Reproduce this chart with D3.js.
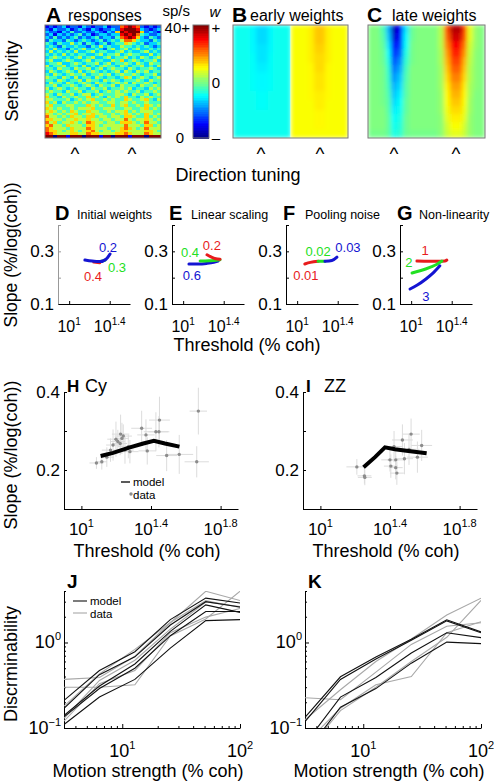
<!DOCTYPE html>
<html><head><meta charset="utf-8">
<script src="https://cdn.jsdelivr.net/npm/d3@7"></script>
<style>
body{margin:0;background:#fff;}
svg text{font-family:"Liberation Sans",Arial,Helvetica,sans-serif;fill:#000;}
</style></head><body>
<svg id="fig" width="494" height="782" xmlns="http://www.w3.org/2000/svg"></svg>
<script>
// ================= DATA =================
// Panel A: responses (digits 0..9 -> 0..40+ sp/s), rows = sensitivity (top high), cols = direction
const respRows = [
"1212312213212231227898721212",
"2132231232132122328999832123",
"3221324223223213269899962321",
"2313232342312332338989743223",
"3242323423234233247898632432",
"2433243234323423435776433243",
"4324335342432342344654342334",
"3432433433243534335443434323",
"4353324345334324534534533434",
"3534343533453443345343345343",
"4343534344334534453454433534",
"3454343453453345344534354345",
"4533454334534433546345434453",
"3445334543445345344543543544",
"5344534435343454435434453435",
"4435443544534534544354344543",
"3543454353454343453543545344",
"4354345445344545345445434453",
"5443543534435434434653454345",
"4435434453544354543444543544",
"3544354345435443454535445434",
"4453445434543544535444354454",
"5345434544354453445453443545",
"4544354453445345454544534454",
"5435445345534544455435445345",
"6443544544645435454644354544",
"5544453454564454544654456435",
"6453544545455445545545445444",
"5644455444654544645644546545",
"6545445455564455544554456454",
"5654546544655445455645455544",
"6545455645565544545654546545",
"7554546554664554554665446454",
"6655455655655455455754556545",
"7564556545765545546665457554",
"6755465554665455555755546645",
"7655546555765554556765457555",
"7665456545675455456655556654",
"8765556655766555566765557655",
"9909919990999199099919990999"
];
// Panel B: early weights (jet value x100)
const earlyW = [
[39,39,39,37,34,34,37,39,39,39,62,62,62,64,68,68,64,62,62,62],
[39,39,39,37,34,34,37,39,39,39,62,62,62,64,68,68,64,62,62,62],
[39,39,39,37,35,35,37,39,39,39,62,62,62,64,67,67,64,62,62,62],
[39,39,39,38,35,35,38,39,39,39,62,62,62,64,66,66,64,62,62,62],
[39,39,39,38,36,36,38,39,39,39,62,62,62,63,66,66,63,62,62,62],
[39,39,39,38,37,37,38,39,39,39,62,62,62,63,65,65,63,62,62,62],
[39,39,39,38,37,37,38,39,39,39,62,62,62,63,65,65,63,62,62,62],
[39,39,39,39,38,38,39,39,39,39,62,62,62,63,64,64,63,62,62,62],
[39,39,39,39,38,38,39,39,39,39,62,62,62,62,64,64,62,62,62,62],
[39,39,39,39,39,39,39,39,39,39,62,62,62,62,63,63,62,62,62,62],
[39,39,39,39,39,39,39,39,39,39,62,62,62,62,63,63,62,62,62,62],
[39,39,39,39,39,39,39,39,39,39,62,62,62,62,62,62,62,62,62,62]
];
// Panel C: late weights (jet value x100)
const lateW = [
[50,50,45,30,5,12,35,48,50,50,50,50,55,80,95,95,82,60,52,50],
[50,50,46,32,8,15,37,48,50,50,50,50,55,78,92,92,80,60,52,50],
[50,50,47,35,12,18,38,49,50,50,50,50,55,75,88,88,76,58,52,50],
[50,50,48,38,16,22,40,49,50,50,50,50,54,72,84,84,73,57,51,50],
[50,50,48,40,20,26,42,49,50,50,50,50,54,70,81,81,70,56,51,50],
[50,50,49,42,24,29,44,50,50,50,50,50,53,68,78,78,68,55,51,50],
[50,50,49,43,27,32,45,50,50,50,50,50,53,66,75,75,66,55,51,50],
[50,50,49,44,30,34,46,50,50,50,50,50,53,64,72,72,64,54,51,50],
[50,50,49,45,32,36,46,50,50,50,50,50,52,63,70,70,63,54,50,50],
[50,50,49,46,34,38,47,50,50,50,50,50,52,62,68,68,62,53,50,50],
[50,50,50,46,36,39,47,50,50,50,50,50,52,61,66,66,61,53,50,50],
[50,50,50,47,38,40,48,50,50,50,50,50,51,60,64,64,60,52,50,50],
[50,50,50,47,39,41,48,50,50,50,50,50,51,58,62,62,58,52,50,50],
[49,49,49,47,40,42,48,49,49,49,49,49,51,57,60,60,57,52,50,50]
];
const colorbarLeft = ["sp/s","40+","0"];
const colorbarRight = ["w","+","0","\u2013"];

// Panels D-G: [threshold % coh, slope]
const dBlue  = [[14.3,0.267],[16.8,0.263],[20.1,0.261],[23.1,0.270],[25.3,0.290]];
const dRed   = [[17.5,0.259],[20.1,0.257]];
const dGreen = [[20.5,0.262],[22.5,0.266]];
const eBlue  = [[11.4,0.252],[14,0.252],[17,0.254],[20,0.258],[22.1,0.263]];
const eGreen = [[14.7,0.263],[18,0.264],[23.1,0.268]];
const eRed   = [[17.2,0.287],[19,0.278],[21,0.272],[23.1,0.270]];
const fRed   = [[11.9,0.252],[13.5,0.258],[16.1,0.262]];
const fGreen = [[16.1,0.262],[18.8,0.262]];
const fBlue  = [[18.8,0.262],[22,0.265],[24.7,0.278]];
const gRed   = [[11.4,0.263],[15,0.262],[19,0.262],[21.5,0.263],[22.5,0.267]];
const gGreen = [[10.2,0.218],[12.5,0.227],[15.5,0.240],[18,0.251],[20.1,0.263]];
const gBlue  = [[9.75,0.157],[11.5,0.172],[14,0.195],[16.5,0.218],[19.2,0.245]];
// parameter labels: [text, threshold, slope, colour key]
const dLabels = [["0.2",24.2,0.316,"b"],["0.3",29.6,0.240,"g"],["0.4",17.2,0.203,"r"]];
const eLabels = [["0.4",11.7,0.294,"g"],["0.2",19.2,0.324,"r"],["0.6",12.2,0.210,"b"]];
const fLabels = [["0.01",12.2,0.210,"r"],["0.02",16.1,0.301,"g"],["0.03",31.7,0.316,"b"]];
const gLabels = [["1",13.7,0.305,"r"],["2",9.5,0.256,"g"],["3",14.0,0.130,"b"]];

// Panel H (monkey Cy)
const hThr   = [12.2,13.1,14.0,14.7,15.2,15.8,16.2,16.8,17.1,17.4,16.7,17.8,18.6,19.0,22.2,23.5,26.8,27.9,28.1,23.9,30.9,36.5,46.0,47.0];
const hSlope = [0.218,0.221,0.233,0.251,0.264,0.279,0.273,0.292,0.281,0.287,0.268,0.251,0.260,0.247,0.307,0.290,0.298,0.298,0.328,0.249,0.237,0.240,0.221,0.351];
const hThrErr   = [0.04,0.03,0.04,0.05,0.04,0.05,0.04,0.05,0.04,0.05,0.04,0.05,0.06,0.05,0.06,0.05,0.07,0.06,0.06,0.05,0.06,0.08,0.07,0.05];
const hSlopeErr = [0.015,0.02,0.025,0.03,0.04,0.045,0.03,0.05,0.04,0.03,0.03,0.035,0.03,0.03,0.045,0.04,0.05,0.04,0.06,0.035,0.04,0.05,0.04,0.06];
const hModel = [[12.9,0.236],[15.2,0.244],[19.0,0.258],[22.7,0.268],[26.1,0.275],[30.2,0.268],[36.6,0.260]];
// Panel I (monkey ZZ)
const iThr   = [16.2,17.9,18.0,25.1,25.4,27.1,27.1,27.5,26.5,29.6,30.4,32.3,33.2,36.1,38.2];
const iSlope = [0.208,0.185,0.181,0.226,0.210,0.226,0.206,0.192,0.260,0.277,0.229,0.253,0.292,0.233,0.263];
const iThrErr   = [0.06,0.04,0.04,0.05,0.04,0.05,0.04,0.04,0.05,0.06,0.05,0.06,0.05,0.06,0.06];
const iSlopeErr = [0.02,0.02,0.02,0.03,0.03,0.03,0.03,0.03,0.04,0.04,0.04,0.04,0.04,0.04,0.04];
const iModel = [[17.7,0.207],[20.6,0.233],[23.5,0.258],[26.8,0.253],[32.0,0.249],[40.8,0.243]];

// Panels J, K: discriminability vs coherence
const coh = [3.2,6.4,12.8,25.6,51.2,100];
const jModel = [
[0.21,0.47,0.78,1.85,3.3,2.9],
[0.17,0.42,0.68,1.6,3.0,2.6],
[0.14,0.31,0.56,1.35,2.75,2.25],
[0.135,0.29,0.50,1.2,2.3,2.3],
[0.11,0.23,0.37,0.86,1.8,1.85]];
const jData = [
[0.37,0.39,0.69,1.7,3.97,3.1],
[0.30,0.30,0.32,1.19,1.88,3.97],
[0.18,0.43,0.83,1.71,3.1,2.56],
[0.13,0.36,0.62,1.43,2.97,2.64],
[0.12,0.33,0.47,1.3,1.98,2.5]];
const kModel = [
[0.133,0.397,0.675,1.09,1.84,1.33],
[0.119,0.369,0.64,1.06,1.79,1.30],
[0.065,0.23,0.39,0.754,1.30,1.14],
[0.05,0.175,0.289,0.573,1.01,0.97]];
const kData = [
[0.226,0.214,0.45,0.95,1.55,1.7],
[0.125,0.28,0.6,1.1,2.1,3.3],
[0.065,0.17,0.32,0.40,1.3,1.75],
[0.05,0.16,0.30,0.6,1.15,3.1]];

// ================= DRAWING =================
const svg = d3.select("#fig");
const defs = svg.append("defs");
const jet = d3.scaleLinear()
  .domain([0,0.125,0.375,0.625,0.875,1])
  .range(["#000080","#0000ff","#00ffff","#ffff00","#ff0000","#800000"])
  .clamp(true);

function T(g,x,y,s,o){
  o=o||{};
  const t=g.append("text").attr("x",x).attr("y",y).attr("font-size",o.fs||16)
    .attr("text-anchor",o.anchor||"start").text(s);
  if(o.bold) t.attr("font-weight","bold");
  if(o.italic) t.attr("font-style","italic");
  if(o.fill) t.style("fill",o.fill);
  if(o.rot) t.attr("transform",`rotate(-90,${x},${y})`);
  return t;
}
function logLabel(g,x,y,exp,anchor,fs,sfs){
  const t=g.append("text").attr("x",x).attr("y",y).attr("text-anchor",anchor||"middle").attr("font-size",fs);
  t.append("tspan").text("10");
  t.append("tspan").attr("dy",-fs*0.45).attr("font-size",sfs).text(exp);
  return t;
}

// blur filter for smooth weight maps
const flt = defs.append("filter").attr("id","smooth").attr("x",0).attr("y",0).attr("width",1).attr("height",1);
flt.append("feGaussianBlur").attr("stdDeviation",2.2).attr("edgeMode","duplicate");

function heat(x0,y0,w,h,rows,val,blur,id,split){
  const nr=rows.length,nc=rows[0].length;
  const xb=d3.scaleBand().domain(d3.range(nc)).range([x0,x0+w]);
  const yb=d3.scaleBand().domain(d3.range(nr)).range([y0,y0+h]);
  const parts=split?[[0,nc/2],[nc/2,nc]]:[[0,nc]];
  parts.forEach(([c0,c1],k)=>{
    const cx0=xb(c0), cx1=c1<nc?xb(c1):x0+w;
    defs.append("clipPath").attr("id",id+k).append("rect").attr("x",cx0).attr("y",y0).attr("width",cx1-cx0).attr("height",h);
    const outer=svg.append("g").attr("clip-path",`url(#${id+k})`);
    const g=outer.append("g").attr("shape-rendering","crispEdges");
    if(blur) g.attr("filter","url(#smooth)");
    rows.forEach((row,r)=>{
      for(let c=c0;c<c1;c++){
        const wd=(c===c1-1)?xb.bandwidth():xb.bandwidth()+0.6;
        g.append("rect").attr("x",xb(c)).attr("y",yb(r))
          .attr("width",wd).attr("height",yb.bandwidth()+(r===nr-1?0:0.6))
          .attr("fill",jet(val(row[c])));
      }
    });
  });
  svg.append("rect").attr("x",x0).attr("y",y0).attr("width",w).attr("height",h)
    .attr("fill","none").attr("stroke","#777").attr("stroke-width",1);
}

// ---- A, B, C
heat(45,25,116,113,respRows,ch=>(+ch)/9,false,"clipA",false);
heat(233,25,115,113,earlyW,v=>v/100,true,"clipB",true);
heat(368,25,117,113,lateW,v=>v/100,true,"clipC",false);

// colorbar
const cbY=d3.scaleLinear().domain([0,1]).range([138,25]);
const cbSteps=d3.range(0,1,1/64);
svg.append("g").attr("shape-rendering","crispEdges").selectAll("rect").data(cbSteps).join("rect")
  .attr("x",193).attr("width",16)
  .attr("y",d=>cbY(d+1/64)).attr("height",d=>cbY(d)-cbY(d+1/64)+0.5)
  .attr("fill",d=>jet(d+0.5/64));
svg.append("rect").attr("x",193).attr("y",25).attr("width",16).attr("height",113).attr("fill","none").attr("stroke","#777");
T(svg,190,16,colorbarLeft[0],{fs:15,anchor:"end"});
T(svg,190,33,colorbarLeft[1],{fs:15,anchor:"end"});
T(svg,184,143,colorbarLeft[2],{fs:15,anchor:"end"});
T(svg,215,17,colorbarRight[0],{fs:15,italic:true,anchor:"middle"});
T(svg,216,33,colorbarRight[1],{fs:15,anchor:"middle"});
T(svg,216,88,colorbarRight[2],{fs:15,anchor:"middle"});
T(svg,216,143,colorbarRight[3],{fs:15,anchor:"middle"});

// titles
T(svg,46,22,"A",{fs:21,bold:true}); T(svg,68,21,"responses",{fs:16});
T(svg,232,22,"B",{fs:21,bold:true}); T(svg,250,21,"early weights",{fs:16});
T(svg,367,22,"C",{fs:21,bold:true}); T(svg,392,21,"late weights",{fs:16});
// carets marking preferred directions
[75,132,261,320,394,456].forEach(x=>T(svg,x,160,"^",{fs:19,anchor:"middle"}));
T(svg,18,81,"Sensitivity",{fs:18,anchor:"middle",rot:true});
T(svg,238,181,"Direction tuning",{fs:18,anchor:"middle"});

// ---- D-G
const col={r:"#e81c1c",g:"#22e022",b:"#1414d2"};
const dg=[
  {x0:58,L:"D",title:"Initial weights",lines:[[dRed,"r"],[dGreen,"g"],[dBlue,"b"]],labels:dLabels,ycol:"#999"},
  {x0:172,L:"E",title:"Linear scaling",lines:[[eBlue,"b"],[eGreen,"g"],[eRed,"r"]],labels:eLabels,ycol:"#000"},
  {x0:286,L:"F",title:"Pooling noise",lines:[[fRed,"r"],[fGreen,"g"],[fBlue,"b"]],labels:fLabels,ycol:"#000"},
  {x0:400,L:"G",title:"Non-linearity",lines:[[gRed,"r"],[gGreen,"g"],[gBlue,"b"]],labels:gLabels,ycol:"#000"}
];
const dgTop=225,dgBot=304,dgW=72;
dg.forEach(p=>{
  const x=d3.scaleLog().domain([Math.pow(10,0.89),Math.pow(10,1.6)]).range([p.x0,p.x0+dgW]);
  const y=d3.scaleLinear().domain([0.1,0.4]).range([dgBot,dgTop]);
  const g=svg.append("g");
  const ya=g.append("g").attr("transform",`translate(${p.x0},0)`)
    .call(d3.axisLeft(y).tickValues([0.1,0.2,0.3,0.4]).tickSize(-3).tickSizeOuter(0).tickFormat(""));
  ya.selectAll("path,line").attr("stroke",p.ycol);
  g.append("g").attr("transform",`translate(0,${dgBot})`)
    .call(d3.axisBottom(x).tickValues([10,Math.pow(10,1.4)]).tickSize(-3).tickSizeOuter(0).tickFormat(""));
  T(g,p.x0-4,y(0.3)+6,"0.3",{fs:17,anchor:"end"});
  T(g,p.x0-4,y(0.1)+6,"0.1",{fs:17,anchor:"end"});
  logLabel(g,x(10),332,"1","middle",16,10);
  logLabel(g,x(Math.pow(10,1.4)),332,"1.4","middle",16,10);
  T(g,p.x0-3,220,p.L,{fs:20,bold:true});
  T(g,p.x0+19,219,p.title,{fs:12.5});
  const line=d3.line().x(d=>x(d[0])).y(d=>y(d[1])).curve(d3.curveMonotoneX);
  p.lines.forEach(([data,c])=>{
    g.append("path").attr("d",line(data)).attr("fill","none").attr("stroke",col[c])
      .attr("stroke-width",3).attr("stroke-linecap","round");
  });
  p.labels.forEach(([s,tx,ty,c])=>T(g,x(tx),y(ty)+4.5,s,{fs:13,anchor:"middle",fill:col[c]}));
});
T(svg,17,255,"Slope (%/log(coh))",{fs:17.5,anchor:"middle",rot:true});
T(svg,247,351,"Threshold (% coh)",{fs:18,anchor:"middle"});

// ---- H, I
function scatterPanel(x0,L,name,thr,slope,thrErr,slopeErr,model,legend){
  const x=d3.scaleLog().domain([Math.pow(10,0.9),Math.pow(10,1.9)]).range([x0,x0+174]);
  const y=d3.scaleLinear().domain([0.1,0.4]).range([509,392]);
  const g=svg.append("g");
  g.append("g").attr("transform",`translate(${x0},0)`)
    .call(d3.axisLeft(y).tickValues([0.1,0.2,0.3,0.4]).tickSize(-3).tickSizeOuter(0).tickFormat(""));
  g.append("g").attr("transform","translate(0,509)")
    .call(d3.axisBottom(x).tickValues([10,Math.pow(10,1.4),Math.pow(10,1.8)]).tickSize(-3).tickSizeOuter(0).tickFormat(""));
  T(g,x0-4,y(0.4)+6,"0.4",{fs:17,anchor:"end"});
  T(g,x0-4,y(0.2)+6,"0.2",{fs:17,anchor:"end"});
  [["1",1],["1.4",1.4],["1.8",1.8]].forEach(([e,v])=>logLabel(g,x(Math.pow(10,v)),535,e,"middle",17,11));
  T(g,x0+3,392,L,{fs:17,bold:true});
  T(g,x0+21,392,name,{fs:18});
  const eb=g.append("g").attr("stroke","#dcdcdc").attr("stroke-width",1);
  thr.forEach((t,i)=>{
    const lt=Math.log10(t);
    eb.append("line").attr("x1",x(Math.pow(10,lt-thrErr[i]))).attr("x2",x(Math.pow(10,lt+thrErr[i])))
      .attr("y1",y(slope[i])).attr("y2",y(slope[i]));
    eb.append("line").attr("x1",x(t)).attr("x2",x(t))
      .attr("y1",y(slope[i]-slopeErr[i])).attr("y2",y(slope[i]+slopeErr[i]));
  });
  g.append("g").selectAll("circle").data(thr).join("circle")
    .attr("cx",d=>x(d)).attr("cy",(d,i)=>y(slope[i])).attr("r",1.7).attr("fill","#8c8c8c");
  g.append("path").attr("d",d3.line().x(d=>x(d[0])).y(d=>y(d[1]))(model))
    .attr("fill","none").attr("stroke","#000").attr("stroke-width",4).attr("stroke-linejoin","miter");
  if(legend){
    g.append("line").attr("x1",x0+57).attr("x2",x0+66).attr("y1",482).attr("y2",482).attr("stroke","#000").attr("stroke-width",1.3);
    T(g,x0+69,486,"model",{fs:11.5});
    g.append("circle").attr("cx",x0+67).attr("cy",494).attr("r",1.7).attr("fill","#8c8c8c");
    T(g,x0+69,498.5,"data",{fs:11.5});
  }
  T(g,x0+83,557,"Threshold (% coh)",{fs:18,anchor:"middle"});
}
scatterPanel(64,"H","Cy",hThr,hSlope,hThrErr,hSlopeErr,hModel,true);
scatterPanel(303,"I","ZZ",iThr,iSlope,iThrErr,iSlopeErr,iModel,false);
T(svg,17,455,"Slope (%/log(coh))",{fs:18,anchor:"middle",rot:true});

// ---- J, K
function discPanel(x0,L,model,data,id,legend){
  const x=d3.scaleLog().domain([3.2,100]).range([x0,x0+176]);
  const y=d3.scaleLog().domain([0.1,4]).range([728,591]);
  const g=svg.append("g");
  const minorY=[0.2,0.3,0.4,0.5,0.6,0.7,0.8,0.9,2,3,4];
  const minorX=[4,5,6,7,8,9,20,30,40,50,60,70,80,90];
  g.append("g").attr("transform",`translate(${x0},0)`)
    .call(d3.axisLeft(y).tickValues([0.1,1]).tickSize(-4).tickSizeOuter(0).tickFormat(""));
  g.append("g").attr("transform",`translate(${x0},0)`)
    .call(d3.axisLeft(y).tickValues(minorY).tickSize(-2).tickSizeOuter(0).tickFormat(""))
    .select(".domain").remove();
  g.append("g").attr("transform","translate(0,728)")
    .call(d3.axisBottom(x).tickValues([10,100]).tickSize(-4).tickSizeOuter(0).tickFormat(""));
  g.append("g").attr("transform","translate(0,728)")
    .call(d3.axisBottom(x).tickValues(minorX).tickSize(-2).tickSizeOuter(0).tickFormat(""))
    .select(".domain").remove();
  logLabel(g,x0-3,y(1)+6,"0","end",18,11);
  logLabel(g,x0-3,y(0.1)+6,"\u22121","end",18,11);
  logLabel(g,x(10),757,"1","middle",18,11);
  logLabel(g,x(100),757,"2","middle",18,11);
  defs.append("clipPath").attr("id",id).append("rect").attr("x",x0).attr("y",591).attr("width",176).attr("height",137);
  const pg=g.append("g").attr("clip-path",`url(#${id})`);
  const line=d3.line().x((d,i)=>x(coh[i])).y(d=>y(d));
  data.forEach(s=>pg.append("path").attr("d",line(s)).attr("fill","none").attr("stroke","#a8a8a8").attr("stroke-width",1.1));
  model.forEach(s=>pg.append("path").attr("d",line(s)).attr("fill","none").attr("stroke","#111").attr("stroke-width",1.1));
  T(g,x0+3,588,L,{fs:19,bold:true});
  if(legend){
    g.append("line").attr("x1",x0+9).attr("x2",x0+23).attr("y1",601).attr("y2",601).attr("stroke","#111").attr("stroke-width",1.1);
    T(g,x0+26,605,"model",{fs:11.5});
    g.append("line").attr("x1",x0+9).attr("x2",x0+23).attr("y1",613).attr("y2",613).attr("stroke","#a8a8a8").attr("stroke-width",1.1);
    T(g,x0+26,617.5,"data",{fs:11.5});
  }
  T(g,x0+84,777,"Motion strength (% coh)",{fs:18,anchor:"middle"});
}
discPanel(64,"J",jModel,jData,"clipJ",true);
discPanel(305,"K",kModel,kData,"clipK",false);
T(svg,17,664,"Discrminability",{fs:18,anchor:"middle",rot:true});
</script>
</body></html>
